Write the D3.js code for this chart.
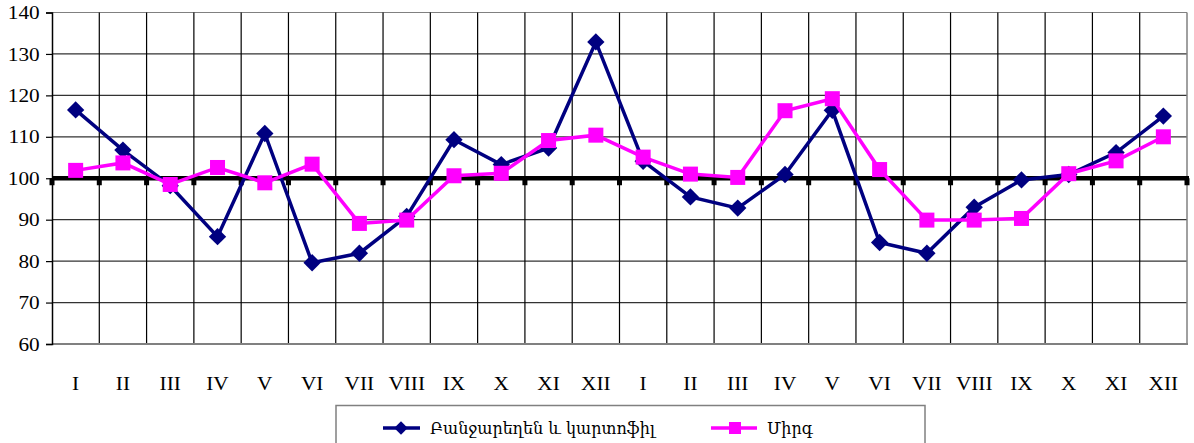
<!DOCTYPE html>
<html><head><meta charset="utf-8">
<script src="https://cdn.jsdelivr.net/npm/d3@7"></script>
<style>
html,body{margin:0;padding:0;background:#fff;}
</style></head>
<body><svg id="c" width="1194" height="443"></svg>
<script>
const months = ["I","II","III","IV","V","VI","VII","VIII","IX","X","XI","XII","I","II","III","IV","V","VI","VII","VIII","IX","X","XI","XII"];
const vegetables = [116.5,106.8,98.2,85.9,110.8,79.6,81.9,90.8,109.3,103.3,107.3,132.9,104.1,95.5,92.8,100.9,116.4,84.5,81.9,93.0,99.6,100.9,106.2,115.0];
const fruit = [101.9,103.7,98.5,102.6,98.9,103.4,89.1,89.9,100.6,101.2,109.1,110.4,105.1,101.0,100.2,116.3,119.2,102.1,89.9,89.9,90.3,101.1,104.2,110.0];
const yTicks = [60,70,80,90,100,110,120,130,140];
const seriesNames = ["Բանջարեղեն և կարտոֆիլ","Միրգ"];

const FONT = "'Liberation Serif','DejaVu Serif',serif";
const svg = d3.select("#c");
const pL = 52, pR = 1187, pT = 12.5, pB = 344;
const x = d3.scaleBand().domain(d3.range(months.length)).range([pL,pR]).padding(0);
const y = d3.scaleLinear().domain([60,140]).range([pB,pT]);
const cx = i => x(i) + x.bandwidth()/2;

// horizontal grid
svg.append("g").selectAll("line").data(yTicks.filter(v=>v!==60 && v!==100)).join("line")
  .attr("x1",pL).attr("x2",pR).attr("y1",d=>y(d)).attr("y2",d=>y(d))
  .attr("stroke",d=>d===140?"#808080":"#333").attr("stroke-width",1.2);
// vertical grid
svg.append("g").selectAll("line").data(d3.range(1,months.length)).join("line")
  .attr("x1",d=>x(d)).attr("x2",d=>x(d)).attr("y1",pT).attr("y2",pB)
  .attr("stroke","#000").attr("stroke-width",1.2);
// right border
svg.append("line").attr("x1",pR).attr("x2",pR).attr("y1",pT).attr("y2",pB).attr("stroke","#808080").attr("stroke-width",1.5);
// bottom border
svg.append("line").attr("x1",pL).attr("x2",pR+1).attr("y1",pB).attr("y2",pB).attr("stroke","#808080").attr("stroke-width",2);

// y axis
const yAxis = d3.axisLeft(y).tickValues(yTicks).tickSize(6).tickPadding(6);
const ga = svg.append("g").attr("transform",`translate(${pL},0)`).call(yAxis);
ga.select(".domain").attr("stroke","#000").attr("stroke-width",1.5);
ga.selectAll(".tick line").attr("stroke","#000").attr("stroke-width",1.2);
ga.selectAll(".tick text").attr("font-size",19).attr("fill","#000")
  .style("font-family",FONT).attr("transform","scale(1.12,1)").attr("x",-11);

// x axis at 100 (thick line + ticks)
svg.append("line").attr("x1",pL).attr("x2",pR+2).attr("y1",y(100)).attr("y2",y(100)).attr("stroke","#000").attr("stroke-width",4.5);
svg.append("g").selectAll("rect").data(d3.range(0,months.length+1)).join("rect")
  .attr("x",d=>(d===months.length?pR:x(d))-2.5).attr("y",y(100)).attr("width",5).attr("height",7).attr("fill","#000");

// x labels
svg.append("g").selectAll("text").data(months).join("text")
  .attr("x",(d,i)=>cx(i)).attr("y",390).attr("text-anchor","middle")
  .attr("font-size",19).attr("fill","#000").style("font-family",FONT).text(d=>d)
  .attr("transform",(d,i)=>`translate(${cx(i)},0) scale(1.12,1) translate(${-cx(i)},0)`);

const line = d3.line().x((d,i)=>cx(i)).y(d=>y(d));
// vegetables
svg.append("path").datum(vegetables).attr("d",line).attr("fill","none").attr("stroke","#000080").attr("stroke-width",3.5);
svg.append("g").selectAll("path").data(vegetables).join("path")
  .attr("d",d3.symbol(d3.symbolSquare,150)())
  .attr("transform",(d,i)=>`translate(${cx(i)},${y(d)}) rotate(45)`).attr("fill","#000080");
// fruit
svg.append("path").datum(fruit).attr("d",line).attr("fill","none").attr("stroke","#ff00ff").attr("stroke-width",3.5);
svg.append("g").selectAll("rect").data(fruit).join("rect")
  .attr("x",(d,i)=>cx(i)-7.5).attr("y",d=>y(d)-7.5).attr("width",15).attr("height",15).attr("fill","#ff00ff");

// legend
const lg = svg.append("g");
lg.append("rect").attr("x",336).attr("y",405.5).attr("width",589).attr("height",50).attr("fill","#fff").attr("stroke","#808080").attr("stroke-width",1.5);
const ly = 428;
const LFONT = "'DejaVu Serif',serif";
lg.append("line").attr("x1",383).attr("x2",420).attr("y1",ly).attr("y2",ly).attr("stroke","#000080").attr("stroke-width",3.5);
lg.append("path").attr("d",d3.symbol(d3.symbolSquare,90)()).attr("transform",`translate(401,${ly}) rotate(45)`).attr("fill","#000080");
lg.append("text").attr("x",430).attr("y",ly+6).attr("font-size",16).style("font-family",LFONT).text(seriesNames[0]);
lg.append("line").attr("x1",711).attr("x2",757).attr("y1",ly).attr("y2",ly).attr("stroke","#ff00ff").attr("stroke-width",3.5);
lg.append("rect").attr("x",729).attr("y",ly-6).attr("width",12).attr("height",12).attr("fill","#ff00ff");
lg.append("text").attr("x",767).attr("y",ly+6).attr("font-size",16).style("font-family",LFONT).text(seriesNames[1]);
</script></body></html>
